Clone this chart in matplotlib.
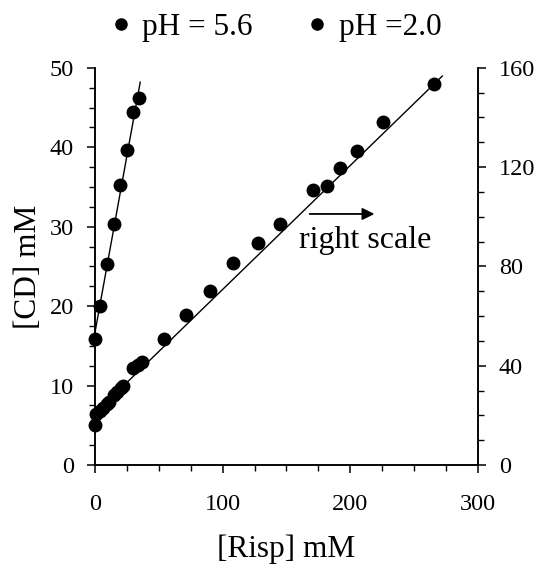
import numpy as np
import matplotlib.pyplot as plt
from matplotlib.lines import Line2D
from matplotlib.ticker import MultipleLocator

plt.rcParams['font.family'] = ['Liberation Serif', 'DejaVu Serif']

# pH 5.6 -> left scale
risp_56 = [0, 3.9, 9.2, 15.2, 19.9, 24.9, 29.8, 34.6]
cd_56 = [15.8, 20.0, 25.3, 30.3, 35.3, 39.7, 44.4, 46.2]

# pH 2.0 -> right scale
risp_20 = [0, 0.8, 3.9, 6.3, 9.4, 11.0, 15.0, 17.7, 20.4, 22.0, 29.5, 33.4, 37.0,
           53.8, 71.2, 90.3, 108.4, 127.5, 145.1, 170.7, 182.0, 191.6, 205.5, 225.2, 265.7]
cd_20 = [16.1, 20.4, 21.6, 22.8, 24.4, 25.4, 28.0, 29.6, 31.0, 31.8, 39.1, 40.1, 41.5,
         50.6, 60.6, 69.9, 81.3, 89.4, 96.9, 110.8, 112.5, 119.8, 126.3, 138.0, 153.6]

# linear fits (intercept, slope) and x extent, as drawn
fit_56 = (16.6, 0.89)
fit_range_56 = [0, 35.5]
fit_20 = (20.7, 0.50)
fit_range_20 = [0, 272]

fig = plt.figure(figsize=(5.39, 5.65), dpi=100)
ax = fig.add_axes([0.176, 0.177, 0.711, 0.703])
ax2 = ax.twinx()

ms = 9
ax.plot(risp_56, cd_56, 'o', color='black', ms=ms, clip_on=False, zorder=3)
fx = np.array(fit_range_56)
ax.plot(fx, fit_56[0] + fit_56[1] * fx, '-', color='black', lw=1.0, clip_on=False)

ax2.plot(risp_20, cd_20, 'o', color='black', ms=ms, clip_on=False, zorder=3)
fx2 = np.array(fit_range_20)
ax2.plot(fx2, fit_20[0] + fit_20[1] * fx2, '-', color='black', lw=1.0, clip_on=False)

ax.set_xlim(0, 300)
ax.set_ylim(0, 50)
ax2.set_ylim(0, 160)

ax.xaxis.set_major_locator(MultipleLocator(100))
ax.xaxis.set_minor_locator(MultipleLocator(25))
ax.yaxis.set_major_locator(MultipleLocator(10))
ax.yaxis.set_minor_locator(MultipleLocator(2.5))
ax2.yaxis.set_major_locator(MultipleLocator(40))
ax2.yaxis.set_minor_locator(MultipleLocator(10))

for a in (ax, ax2):
    a.spines['top'].set_visible(False)
    for s in a.spines.values():
        s.set_linewidth(1.1)
    a.tick_params(which='major', direction='out', length=6, width=1.1, labelsize=17.5, pad=9)
    a.tick_params(which='minor', direction='out', length=4.5, width=1.0)
ax.tick_params(axis='x', which='major', pad=15)

ax.set_xlabel('[Risp] mM', fontsize=22.5, labelpad=14)
ax.set_ylabel('[CD] mM', fontsize=22.5, labelpad=5)

ax.annotate('', xy=(221, 31.6), xytext=(166, 31.6),
            arrowprops=dict(arrowstyle='-|>', color='black', lw=1.3, mutation_scale=18))
ax.text(160, 28.3, 'right scale', fontsize=23, va='center', ha='left')

handles = [Line2D([], [], marker='o', ls='none', color='black', ms=8),
           Line2D([], [], marker='o', ls='none', color='black', ms=8)]
fig.legend(handles, ['pH = 5.6', 'pH =2.0'], loc='center', bbox_to_anchor=(0.507, 0.952),
           ncol=2, frameon=False, fontsize=22.5, handletextpad=0.2, columnspacing=1.55,
           handlelength=1.0)

fig.savefig('out.png', dpi=100)
